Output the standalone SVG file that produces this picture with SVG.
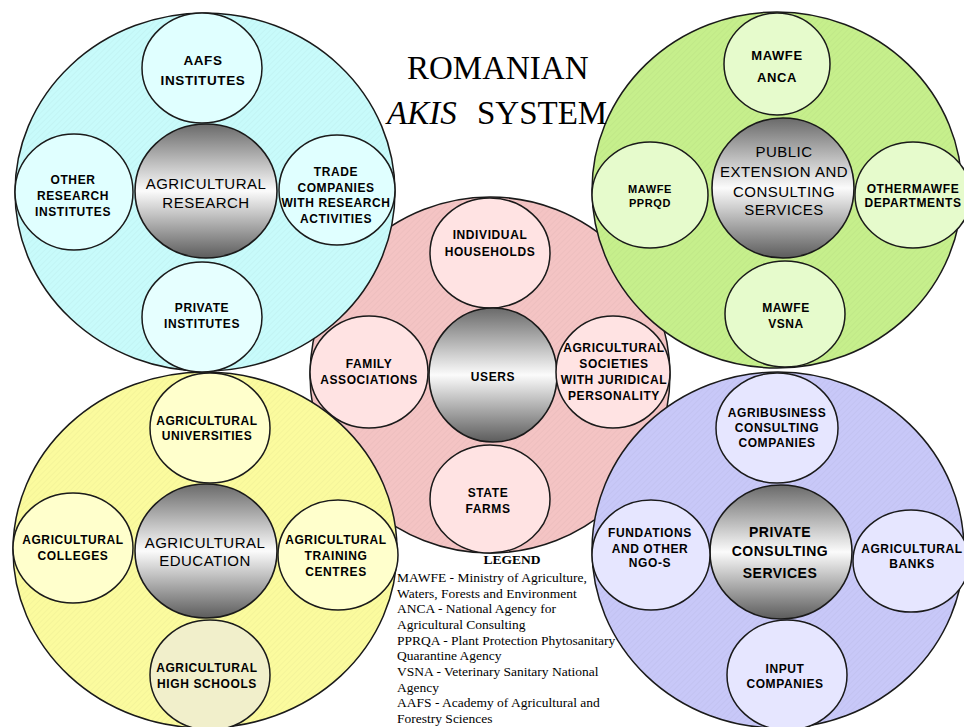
<svg xmlns="http://www.w3.org/2000/svg" width="964" height="727" viewBox="0 0 964 727">
<style>
.big{stroke:#1a1a1a;stroke-width:1.5}
.sm{stroke:#1a1a1a;stroke-width:1.5}
.hub{fill:url(#gray);stroke:#1a1a1a;stroke-width:1.6}
.hatch{fill:url(#hatch);stroke:none}
.t{font-family:"Liberation Sans",Arial,sans-serif;font-weight:bold;font-size:12px;letter-spacing:0.6px;text-anchor:middle;fill:#000}
.th{font-family:"Liberation Sans",Arial,sans-serif;font-size:15px;letter-spacing:0.5px;text-anchor:middle;fill:#000}
.leg{font-family:"Liberation Serif","Times New Roman",serif;font-size:13.5px;fill:#000}
.ttl{font-family:"Liberation Serif","Times New Roman",serif;font-size:33px;fill:#000}
</style>
<defs>
<linearGradient id="gray" x1="0" y1="0" x2="0" y2="1">
<stop offset="0" stop-color="#6a6a6a"/>
<stop offset="0.5" stop-color="#fbfbfb"/>
<stop offset="1" stop-color="#5c5c5c"/>
</linearGradient>
<pattern id="hatch" width="4" height="4" patternUnits="userSpaceOnUse" patternTransform="rotate(45)">
<line x1="0" y1="0" x2="0" y2="4" stroke="#000" stroke-opacity="0.05" stroke-width="1"/>
</pattern>
</defs>
<rect width="964" height="727" fill="#fff"/>

<g id="users-area">
<ellipse class="big" cx="490" cy="375" rx="180" ry="178" fill="#f4c4c4"/>
<ellipse class="hatch" cx="490" cy="375" rx="180" ry="178"/>
</g>
<g id="research-area">
<ellipse class="big" cx="205" cy="192" rx="190" ry="179" fill="#c8fbfb"/>
<ellipse class="hatch" cx="205" cy="192" rx="190" ry="179"/>
</g>
<g id="public-area">
<ellipse class="big" cx="777" cy="190" rx="185" ry="178" fill="#c6ef8c"/>
<ellipse class="hatch" cx="777" cy="190" rx="185" ry="178"/>
</g>
<g id="education-area">
<ellipse class="big" cx="205" cy="550" rx="192" ry="178" fill="#fbfb9e"/>
<ellipse class="hatch" cx="205" cy="550" rx="192" ry="178"/>
</g>
<g id="private-area">
<ellipse class="big" cx="778" cy="550" rx="186" ry="178" fill="#c8c8f8"/>
<ellipse class="hatch" cx="778" cy="550" rx="186" ry="178"/>
</g>

<!-- Research cluster -->
<g id="aafs-institutes">
<ellipse class="sm" cx="202" cy="68" rx="60" ry="55" fill="#e0ffff"/>
<text class="t" style="font-size:13.5px" x="203" y="65">AAFS</text>
<text class="t" style="font-size:13.5px" x="203" y="85">INSTITUTES</text>
</g>
<g id="agricultural-research">
<ellipse class="hub" cx="206" cy="191" rx="71" ry="67"/>
<text class="th" x="206" y="189">AGRICULTURAL</text>
<text class="th" x="206" y="208">RESEARCH</text>
</g>
<g id="other-research-institutes">
<ellipse class="sm" cx="74" cy="192" rx="59" ry="58" fill="#e0ffff"/>
<text class="t" x="73" y="184">OTHER</text>
<text class="t" x="73" y="200">RESEARCH</text>
<text class="t" x="73" y="216">INSTITUTES</text>
</g>
<g id="trade-companies">
<ellipse class="sm" cx="337" cy="190" rx="58" ry="55" fill="#e0ffff"/>
<text class="t" x="336" y="176">TRADE</text>
<text class="t" x="336" y="192">COMPANIES</text>
<text class="t" x="336" y="207">WITH RESEARCH</text>
<text class="t" x="336" y="223">ACTIVITIES</text>
</g>
<g id="private-institutes">
<ellipse class="sm" cx="202" cy="317" rx="60" ry="55" fill="#e6ffff"/>
<text class="t" x="202" y="312">PRIVATE</text>
<text class="t" x="202" y="328">INSTITUTES</text>
</g>

<!-- Public cluster -->
<g id="mawfe-anca">
<ellipse class="sm" cx="777" cy="64" rx="53" ry="51" fill="#e6fbcc"/>
<text class="t" style="font-size:13px" x="777" y="60">MAWFE</text>
<text class="t" style="font-size:13px" x="777" y="82">ANCA</text>
</g>
<g id="public-extension">
<ellipse class="hub" cx="783" cy="188" rx="71" ry="70"/>
<text class="th" x="784" y="157">PUBLIC</text>
<text class="th" x="784" y="177">EXTENSION AND</text>
<text class="th" x="784" y="197">CONSULTING</text>
<text class="th" x="784" y="215">SERVICES</text>
</g>
<g id="mawfe-pprqd">
<ellipse class="sm" cx="650" cy="195" rx="58" ry="53" fill="#e6fbcc"/>
<text class="t" style="font-size:11px" x="650" y="193">MAWFE</text>
<text class="t" style="font-size:11px" x="650" y="207">PPRQD</text>
</g>
<g id="other-mawfe-departments">
<ellipse class="sm" cx="913" cy="195" rx="58" ry="53" fill="#e6fbcc"/>
<text class="t" x="913" y="193">OTHERMAWFE</text>
<text class="t" x="913" y="207">DEPARTMENTS</text>
</g>
<g id="mawfe-vsna">
<ellipse class="sm" cx="785" cy="314" rx="60" ry="53" fill="#e6fbcc"/>
<text class="t" x="786" y="312">MAWFE</text>
<text class="t" x="786" y="328">VSNA</text>
</g>

<!-- Users cluster -->
<g id="individual-households">
<ellipse class="sm" cx="490" cy="253" rx="60" ry="55" fill="#ffe3e3"/>
<text class="t" x="490" y="239">INDIVIDUAL</text>
<text class="t" x="490" y="256">HOUSEHOLDS</text>
</g>
<g id="users">
<ellipse class="hub" cx="493" cy="375" rx="64" ry="67"/>
<text class="t" x="493" y="381">USERS</text>
</g>
<g id="family-associations">
<ellipse class="sm" cx="369" cy="372" rx="59" ry="56" fill="#ffe3e3"/>
<text class="t" x="369" y="368">FAMILY</text>
<text class="t" x="369" y="384">ASSOCIATIONS</text>
</g>
<g id="agricultural-societies">
<ellipse class="sm" cx="613" cy="372" rx="57" ry="56" fill="#ffe3e3"/>
<text class="t" x="614" y="352">AGRICULTURAL</text>
<text class="t" x="614" y="368">SOCIETIES</text>
<text class="t" x="614" y="384">WITH JURIDICAL</text>
<text class="t" x="614" y="400">PERSONALITY</text>
</g>
<g id="state-farms">
<ellipse class="sm" cx="490" cy="499" rx="60" ry="54" fill="#ffe3e3"/>
<text class="t" x="488" y="497">STATE</text>
<text class="t" x="488" y="513">FARMS</text>
</g>

<!-- Education cluster -->
<g id="agricultural-universities">
<ellipse class="sm" cx="210" cy="428" rx="60" ry="55" fill="#ffffcc"/>
<text class="t" x="207" y="425">AGRICULTURAL</text>
<text class="t" x="207" y="440">UNIVERSITIES</text>
</g>
<g id="agricultural-education">
<ellipse class="hub" cx="206" cy="551" rx="71" ry="67"/>
<text class="th" x="205" y="548">AGRICULTURAL</text>
<text class="th" x="205" y="566">EDUCATION</text>
</g>
<g id="agricultural-colleges">
<ellipse class="sm" cx="73" cy="548" rx="60" ry="55" fill="#ffffcc"/>
<text class="t" x="73" y="544">AGRICULTURAL</text>
<text class="t" x="73" y="560">COLLEGES</text>
</g>
<g id="agricultural-training-centres">
<ellipse class="sm" cx="338" cy="555" rx="60" ry="55" fill="#ffffcc"/>
<text class="t" x="336" y="544">AGRICULTURAL</text>
<text class="t" x="336" y="560">TRAINING</text>
<text class="t" x="336" y="576">CENTRES</text>
</g>
<g id="agricultural-high-schools">
<ellipse class="sm" cx="210" cy="675" rx="60" ry="55" fill="#f1efcb"/>
<text class="t" x="207" y="672">AGRICULTURAL</text>
<text class="t" x="207" y="688">HIGH SCHOOLS</text>
</g>

<!-- Private cluster -->
<g id="agribusiness-consulting">
<ellipse class="sm" cx="777" cy="428" rx="61" ry="55" fill="#e6e6ff"/>
<text class="t" x="777" y="417">AGRIBUSINESS</text>
<text class="t" x="777" y="432">CONSULTING</text>
<text class="t" x="777" y="447">COMPANIES</text>
</g>
<g id="private-consulting">
<ellipse class="hub" cx="781" cy="552" rx="71" ry="67"/>
<text class="th" style="font-weight:bold;font-size:14px" x="780" y="537">PRIVATE</text>
<text class="th" style="font-weight:bold;font-size:14px" x="780" y="556">CONSULTING</text>
<text class="th" style="font-weight:bold;font-size:14px" x="780" y="578">SERVICES</text>
</g>
<g id="fundations-ngo">
<ellipse class="sm" cx="651" cy="555" rx="59" ry="55" fill="#e6e6ff"/>
<text class="t" x="650" y="537">FUNDATIONS</text>
<text class="t" x="650" y="553">AND OTHER</text>
<text class="t" x="650" y="567">NGO-S</text>
</g>
<g id="agricultural-banks">
<ellipse class="sm" cx="911" cy="561" rx="58" ry="51" fill="#e6e6ff"/>
<text class="t" x="912" y="553">AGRICULTURAL</text>
<text class="t" x="912" y="568">BANKS</text>
</g>
<g id="input-companies">
<ellipse class="sm" cx="787" cy="675" rx="60" ry="55" fill="#e6e6ff"/>
<text class="t" x="785" y="673">INPUT</text>
<text class="t" x="785" y="688">COMPANIES</text>
</g>

<g id="heading">
<text class="ttl" x="407" y="79">ROMANIAN</text>
<text class="ttl" x="387" y="124" font-style="italic">AKIS</text>
<text class="ttl" x="477" y="124">SYSTEM</text>
</g>

<g id="legend">
<text class="leg" x="512" y="564" text-anchor="middle" font-weight="bold" font-size="13">LEGEND</text>
<text class="leg" x="397" y="582">MAWFE - Ministry of Agriculture,</text>
<text class="leg" x="397" y="598">Waters, Forests and Environment</text>
<text class="leg" x="397" y="613">ANCA - National Agency for</text>
<text class="leg" x="397" y="629">Agricultural Consulting</text>
<text class="leg" x="397" y="645">PPRQA - Plant Protection Phytosanitary</text>
<text class="leg" x="397" y="660">Quarantine Agency</text>
<text class="leg" x="397" y="676">VSNA - Veterinary Sanitary National</text>
<text class="leg" x="397" y="692">Agency</text>
<text class="leg" x="397" y="707">AAFS - Academy of Agricultural and</text>
<text class="leg" x="397" y="723">Forestry Sciences</text>
</g>
</svg>
